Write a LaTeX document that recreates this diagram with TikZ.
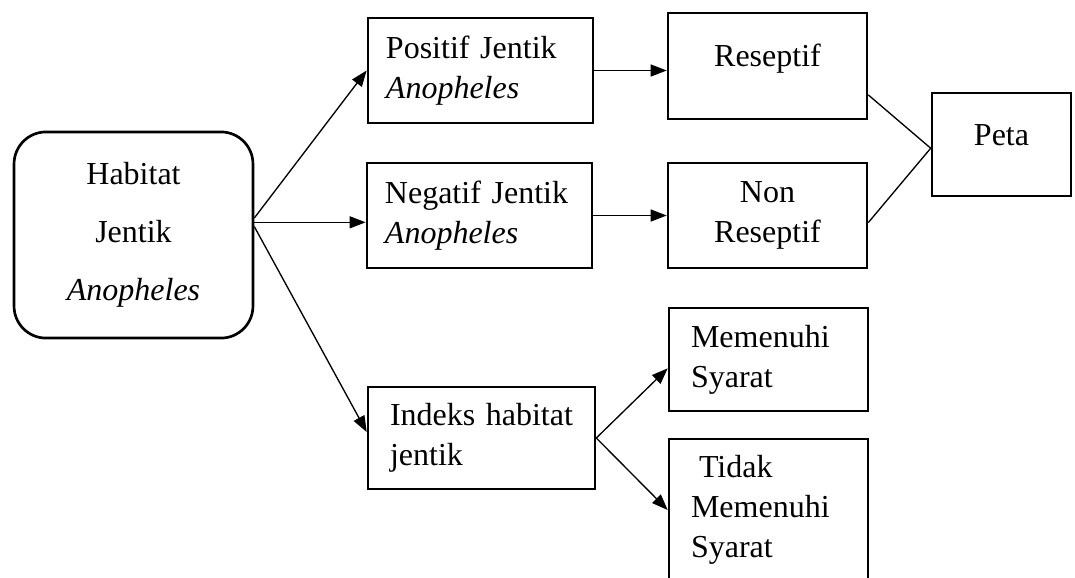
\documentclass[tikz,border=0pt]{standalone}
\usepackage{fontspec}
\setmainfont{Liberation Serif}
\usetikzlibrary{arrows.meta}

\begin{document}
\begin{tikzpicture}[x=0.375pt,y=-0.375pt,font=\fontsize{12}{15}\selectfont,kotak/.style={draw,line width=1pt,inner sep=0pt},kiri/.style={kotak,align=left,text width=#1},tengah/.style={kotak,align=center},atas/.style={kotak,text height=8.5pt,text depth=8pt},panah/.style={-{Triangle[length=6pt,width=4.5pt]},line width=.5pt},garis/.style={line width=.5pt}]
  \path[use as bounding box,clip] (0,0) rectangle (1075,577);
  \node[tengah,rounded corners=12pt,minimum width=89.6pt,minimum height=77.3pt,font=\fontsize{12}{21.75}\selectfont] (hab) at (133.5,235) {Habitat\\Jentik\\\textit{Anopheles}};
  \node[kiri=70.9pt,minimum width=84.4pt,minimum height=39.4pt] (pos) at (480.5,70.5) {Positif Jentik\\\textit{Anopheles}};
  \node[kiri=70.9pt,minimum width=84.4pt,minimum height=39.4pt] (neg) at (479.5,215.5) {Negatif Jentik\\\textit{Anopheles}};
  \node[kiri=68.6pt,minimum width=85.1pt,minimum height=38.25pt] (ind) at (481.5,438) {Indeks\hfill habitat\\jentik};
  \node[atas,minimum width=74.6pt,minimum height=39.75pt] (res) at (767.5,66) {Reseptif};
  \node[tengah,minimum width=74.6pt,minimum height=39.4pt] (nonres) at (767.5,215.5) {Non\\Reseptif};
  \node[atas,minimum width=52.1pt,minimum height=38.6pt] (peta) at (1001.5,144.5) {Peta};
  \node[kiri=58.1pt,minimum width=74.6pt,minimum height=38.6pt] (mem) at (768.5,359.5) {Memenuhi\\Syarat};
  \node[kiri=58.1pt,minimum width=74.6pt,minimum height=53.25pt] (tid) at (768.5,510) {\hspace*{3pt}Tidak\\Memenuhi\\Syarat};
  % cabang dari habitat
  \draw[panah] (hab.8) -- (pos.west);
  \draw[panah] (hab.6) -- (hab.6 -| neg.west);
  \draw[panah] (hab.4) -- (ind.177);
  \draw[panah] (pos.east) -- (pos.east -| res.west);
  \draw[panah] (neg.east) -- (neg.east -| nonres.west);
  % ke peta
  \draw[garis] (res.-16) -- (peta.183);
  \draw[garis] (nonres.-4) -- (peta.183);
  \draw[panah] (ind.east) -- (mem.185);
  \draw[panah] (ind.east) -- (tid.west);
\end{tikzpicture}
\end{document}
